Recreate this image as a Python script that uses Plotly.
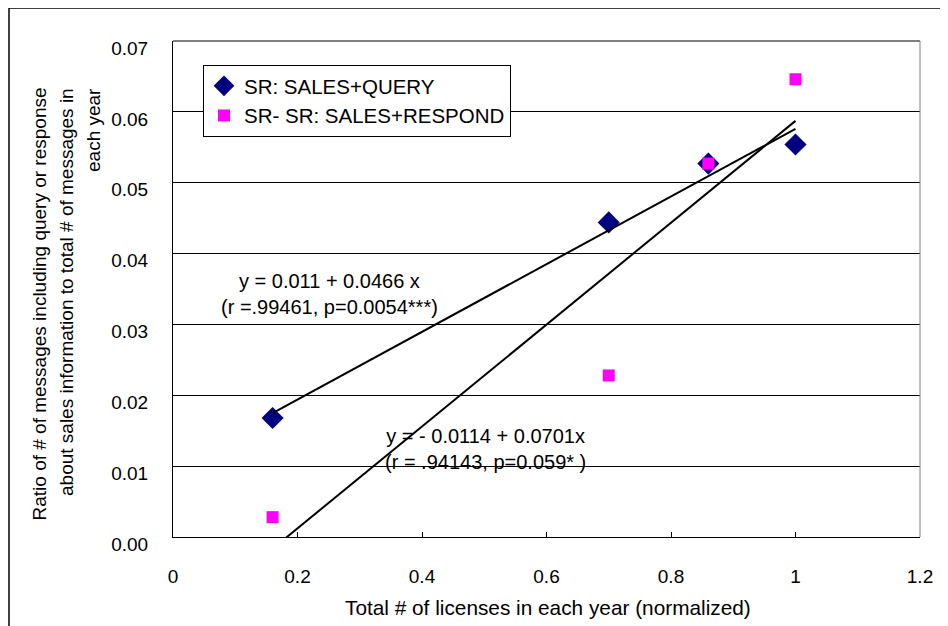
import numpy as np
import plotly.graph_objects as go

# ---- data ----
licenses = [0.16, 0.70, 0.86, 1.00]
sales_query = [0.0168, 0.0444, 0.0527, 0.0554]
sales_respond = [0.0028, 0.0228, 0.0527, 0.0646]
name_query = "SR: SALES+QUERY"
name_respond = "SR- SR: SALES+RESPOND"
eq_query = "y = 0.011 + 0.0466 x<br>(r =.99461, p=0.0054***)"
eq_respond = "y = - 0.0114 + 0.0701x<br>(r = .94143, p=0.059* )"
x_ticks = [0, 0.2, 0.4, 0.6, 0.8, 1.0, 1.2]
x_ticktext = ["0", "0.2", "0.4", "0.6", "0.8", "1", "1.2"]
y_title_lines = ["Ratio of # of messages including query or response",
                 "about sales information to total # of messages in",
                 "each year"]
x_title = "Total # of licenses in each year (normalized)"

FONT = "Liberation Sans, Arial, sans-serif"
FS = 19
FS_EQ = 20
FS_LEG = 20.5

# linear trend lines (least squares on the data)
xs = np.array(licenses)
bq = np.polyfit(xs, sales_query, 1)
br = np.polyfit(xs, sales_respond, 1)
xfit = [min(licenses), max(licenses)]

# plot area in screen pixels (page has an 8px body margin)
PL, PR, PT, PB = 173, 920, 41, 537
PW, PH = PR - PL, PB - PT


def px(x):
    return (x - PL) / PW


def py(y):
    return (PB - y) / PH


fig = go.Figure()
fig.add_trace(go.Scatter(x=licenses, y=sales_query, mode="markers", name=name_query,
                         marker=dict(symbol="diamond", size=17, color="#000080")))
fig.add_trace(go.Scatter(x=licenses, y=sales_respond, mode="markers", name=name_respond,
                         marker=dict(symbol="square", size=12, color="#FF00FF")))
fig.add_trace(go.Scatter(x=xfit, y=list(np.polyval(bq, xfit)), mode="lines", showlegend=False,
                         line=dict(color="black", width=2), hoverinfo="skip"))
fig.add_trace(go.Scatter(x=xfit, y=list(np.polyval(br, xfit)), mode="lines", showlegend=False,
                         line=dict(color="black", width=2), hoverinfo="skip"))

annotations = [
    dict(x=px(329), y=py(294), xref="paper", yref="paper", text=eq_query, showarrow=False,
         xanchor="center", yanchor="middle",
         font=dict(family=FONT, size=FS_EQ, color="black")),
    dict(x=px(485), y=py(449), xref="paper", yref="paper", text=eq_respond, showarrow=False,
         xanchor="center", yanchor="middle",
         font=dict(family=FONT, size=FS_EQ, color="black")),
    dict(x=px(548), y=py(607), xref="paper", yref="paper", text=x_title,
         xanchor="center", yanchor="middle",
         showarrow=False, font=dict(family=FONT, size=20.8, color="black")),
]
for line, cx in zip(y_title_lines, [39, 66, 94]):
    annotations.append(dict(x=px(cx), y=py(86), xref="paper", yref="paper",
                            text=line, textangle=-90, showarrow=False, xanchor="center",
                            yanchor="top", font=dict(family=FONT, size=FS, color="black")))

X0 = px(9)
Y0 = py(8)
shapes = [
    dict(type="line", xref="paper", yref="paper", x0=0, x1=1, y0=1, y1=1,
         line=dict(color="black", width=1)),
    dict(type="line", xref="paper", yref="paper", x0=1, x1=1, y0=0, y1=1,
         line=dict(color="#808080", width=1)),
    dict(type="line", xref="paper", yref="paper", x0=X0, x1=1.06, y0=Y0, y1=Y0,
         line=dict(color="black", width=1.5)),
    dict(type="line", xref="paper", yref="paper", x0=X0, x1=X0, y0=Y0, y1=-0.2,
         line=dict(color="black", width=1.5)),
]

fig.update_layout(
    width=940, height=618, autosize=False,
    margin=dict(l=PL - 8, r=940 - (PR - 8), t=PT - 8, b=618 - (PB - 8)),
    paper_bgcolor="white", plot_bgcolor="white",
    font=dict(family=FONT, size=FS, color="black"),
    showlegend=True,
    legend=dict(x=px(203), y=py(65), xanchor="left", yanchor="top",
                bgcolor="white", bordercolor="black", borderwidth=1,
                font=dict(family=FONT, size=FS_LEG, color="black"), tracegroupgap=0),
    annotations=annotations,
    shapes=shapes,
    xaxis=dict(range=[0, 1.2], tickvals=x_ticks, ticktext=x_ticktext, ticks="inside",
               ticklen=5, tickcolor="black", showline=True, linecolor="black", linewidth=1,
               showgrid=False, zeroline=False, ticklabelstandoff=22,
               tickfont=dict(family=FONT, size=FS, color="black")),
    yaxis=dict(range=[0, 0.07], dtick=0.01, tick0=0, tickformat=".2f", ticks="",
               showline=True, linecolor="black", linewidth=1, showgrid=True,
               gridcolor="black", gridwidth=1, zeroline=False, ticklabelshift=7,
               ticklabelstandoff=20, tickfont=dict(family=FONT, size=FS, color="black")),
)

fig.write_html("out.html")
